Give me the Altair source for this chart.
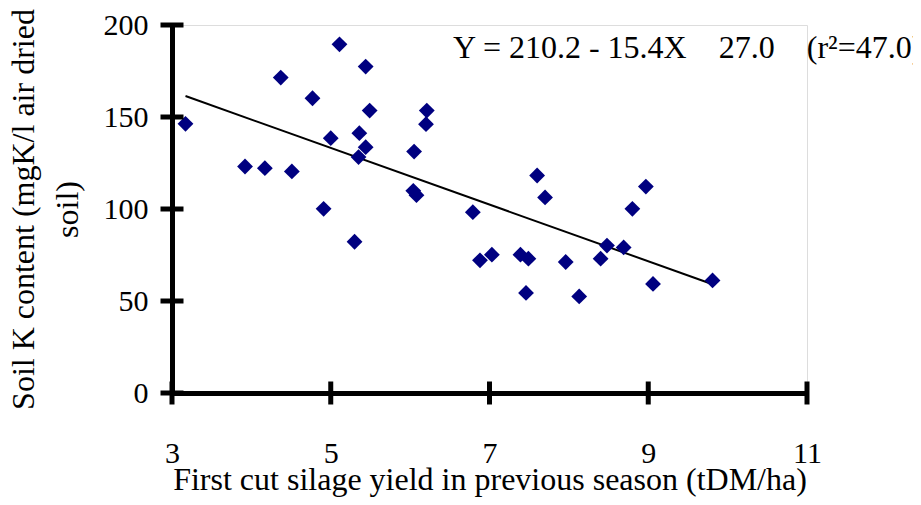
import altair as alt
import pandas as pd

# Data
yield_t = [3.17, 5.11, 5.44, 4.37, 4.77, 5.49, 6.21, 6.20, 5.36, 5.00, 5.44, 5.35,
           6.05, 3.92, 4.17, 4.51, 6.04, 6.08, 4.91, 6.79, 5.30, 7.60, 7.70, 8.97,
           8.80, 6.88, 7.03, 7.39, 7.49, 7.96, 8.40, 8.48, 8.69, 7.46, 8.13, 9.06, 9.81]
soil_k = [146.3, 189.5, 177.4, 171.4, 160.2, 153.5, 153.5, 146.1, 141.2, 138.5, 133.6, 128.2,
          131.2, 123.1, 122.2, 120.4, 109.9, 107.5, 100.1, 98.3, 82.2, 118.2, 106.3, 112.2,
          100.1, 72.1, 75.2, 75.2, 73.0, 71.2, 73.0, 80.1, 79.1, 54.4, 52.5, 59.3, 61.2]

intercept = 210.2
slope = -15.4
line_x = [3.17, 9.81]
line_y = [intercept + slope * v for v in line_x]

x_ticks = [3, 5, 7, 9, 11]
y_ticks = [0, 50, 100, 150, 200]

equation = "Y = 210.2 - 15.4X\u00a0\u00a0\u00a0\u00a027.0\u00a0\u00a0\u00a0\u00a0(r\u00b2=47.0)"
eq_pos_x = [6.54]
eq_pos_y = [182]

FONT = "Liberation Serif"
FS = 30
TFS = 32

pts = pd.DataFrame({"x": yield_t, "y": soil_k})
ln = pd.DataFrame({"x": line_x, "y": line_y})
xt = pd.DataFrame({"x": x_ticks})
yt = pd.DataFrame({"y": y_ticks})
eq = pd.DataFrame({"x": eq_pos_x, "y": eq_pos_y, "t": [equation]})

xscale = alt.Scale(domain=[3, 11], nice=False, zero=False)
yscale = alt.Scale(domain=[0, 200], nice=False, zero=False)

xaxis = alt.Axis(values=x_ticks, format="d", ticks=False, grid=False, domainColor="black",
                 domainWidth=5, labelFlush=False,
                 labelFont=FONT, labelFontSize=FS, labelColor="black", labelPadding=45,
                 title="First cut silage yield in previous season (tDM/ha)",
                 titleFont=FONT, titleFontSize=TFS, titleFontWeight="normal", titleColor="black",
                 titlePadding=-4)
yaxis = alt.Axis(values=y_ticks, format="d", ticks=False, grid=False, domainColor="black",
                 domainWidth=5, labelFlush=False,
                 labelFont=FONT, labelFontSize=FS, labelColor="black", labelPadding=24,
                 title=["Soil K content (mgK/l air dried", "soil)"],
                 titleFont=FONT, titleFontSize=TFS, titleFontWeight="normal", titleColor="black",
                 titlePadding=19, titleLineHeight=44)

points = alt.Chart(pts).mark_point(shape="diamond", filled=True, size=250, color="#000080",
                                   opacity=1).encode(
    x=alt.X("x:Q", scale=xscale, axis=xaxis),
    y=alt.Y("y:Q", scale=yscale, axis=yaxis),
)

reg = alt.Chart(ln).mark_line(color="black", strokeWidth=2).encode(
    x=alt.X("x:Q", scale=xscale), y=alt.Y("y:Q", scale=yscale))

xtick = alt.Chart(xt).mark_tick(orient="vertical", size=23, thickness=5, color="black",
                                opacity=1).encode(
    x=alt.X("x:Q", scale=xscale), y=alt.datum(0))

ytick = alt.Chart(yt).mark_tick(orient="horizontal", size=23, thickness=5, color="black",
                                opacity=1).encode(
    y=alt.Y("y:Q", scale=yscale), x=alt.datum(3))

eqtext = alt.Chart(eq).mark_text(font=FONT, fontSize=TFS, align="left", baseline="alphabetic",
                                 color="black").encode(
    x=alt.X("x:Q", scale=xscale), y=alt.Y("y:Q", scale=yscale), text="t:N")

chart = alt.layer(reg, points, xtick, ytick, eqtext).properties(
    width=635, height=368,
    autosize=alt.AutoSizeParams(type="none"),
    padding={"left": 164, "top": 17, "right": 106, "bottom": 104},
).configure_view(stroke=None).configure(background="white")

chart.save("out.html", embed_options={"renderer": "svg", "actions": False})
